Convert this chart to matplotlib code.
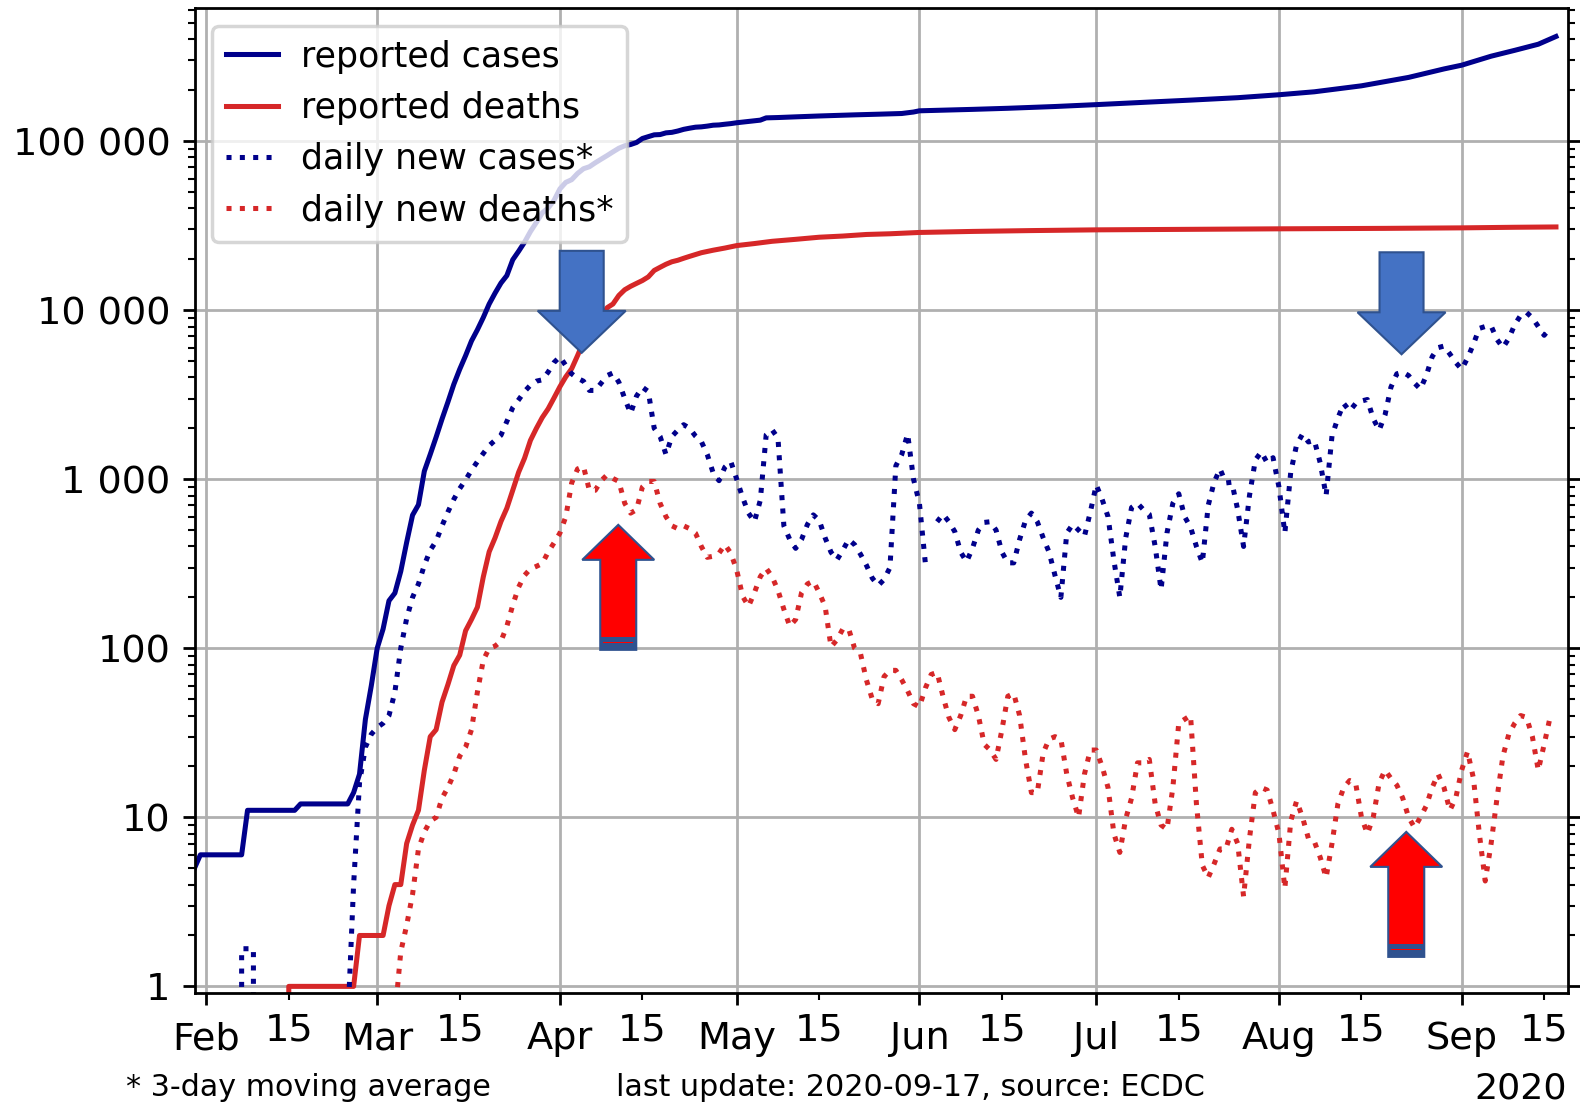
import numpy as np
import matplotlib
matplotlib.use('Agg')
import matplotlib.pyplot as plt
import matplotlib.dates as mdates
from matplotlib import ticker, transforms
from matplotlib.patches import Polygon, Rectangle

start = np.datetime64('2020-02-01')

# cumulative cases (day offset from 1 Feb, value)
cases_days = [-3, -2, -1, 6, 7, 15, 16, 24, 25, 26, 27, 28, 29, 30, 31, 32, 33, 34, 35, 36,
              37, 38, 39, 40, 41, 42, 43, 44, 45, 46, 47, 48, 49, 50, 51, 52, 53, 54, 55, 56,
              57, 58, 59, 60, 61, 62, 63, 64, 65, 66, 67, 68, 69, 70, 71, 72, 73, 74, 75, 76,
              77, 78, 79, 80, 81, 82, 83, 84, 85, 86, 87, 88, 89, 90, 94, 95, 97, 100, 104, 110,
              114, 118, 120, 121, 130, 136, 144, 151, 160, 167, 175, 182, 188, 196, 204, 210,
              213, 218, 222, 226, 229]
cases_total = [4, 5, 6, 6, 11, 11, 12, 12, 14, 18, 38, 60, 100, 130, 191, 212, 285, 423, 613, 706,
               1116, 1402, 1774, 2269, 2860, 3640, 4469, 5380, 6573, 7652, 9043, 10871, 12612, 14459, 16018, 19856, 22302, 25233, 29155, 32964,
               37575, 40174, 44550, 52128, 56989, 59105, 64338, 68605, 70478, 74390, 78167, 82048, 86334, 90676, 93790, 95403, 98076, 103573, 106206, 108847,
               109252, 111821, 112606, 114657, 117324, 119151, 120804, 121368, 122577, 124114, 124575, 125770, 126835, 128339, 132967, 137150, 137779, 139063, 140734, 142903,
               144163, 145555, 148524, 151000, 153977, 156287, 160093, 164260, 170094, 174674, 180528, 187919, 195633, 212211, 238002, 267077,
               281025, 317706, 344101, 373911, 415481]

# cumulative deaths
deaths_days = [13, 14, 25, 26, 30, 31, 32, 33, 34, 35, 36, 37, 38, 39, 40, 41, 42, 43, 44, 45,
               46, 47, 48, 49, 50, 51, 52, 53, 54, 55, 56, 57, 58, 59, 60, 61, 62, 63, 64, 65,
               66, 67, 68, 69, 70, 71, 72, 73, 74, 75, 76, 77, 78, 79, 80, 81, 82, 84, 86, 88,
               90, 93, 96, 100, 104, 108, 112, 116, 121, 130, 140, 151, 165, 182, 200, 213, 222, 229]
deaths_total = [0, 1, 1, 2, 2, 3, 4, 4, 7, 9, 11, 19, 30, 33, 48, 61, 79, 91, 127, 148,
                175, 264, 372, 450, 562, 674, 860, 1100, 1331, 1696, 1995, 2314, 2606, 3024, 3523, 4032, 4503, 5387, 6507, 7560,
                8078, 8911, 10328, 10869, 12210, 13197, 13832, 14393, 14967, 15729, 17167, 17920, 18681, 19323, 19718, 20265, 20796, 21856, 22614, 23293,
                24087, 24760, 25531, 26230, 26991, 27425, 28022, 28289, 28802, 29209, 29547, 29843, 30029, 30265, 30451, 30661, 30910, 31045]

# daily new cases, 3-day moving average, from 1 Feb
new_cases = [0, 0, 0, 0, 0, 0, 1.67, 1.67, 1.67, 0,
             0, 0, 0, 0, 0, 0, 0, 0, 0, 0,
             0, 0, 0, 0, 0.6, 4, 16, 26, 31, 34,
             36, 40, 55, 100, 150, 200, 240, 310, 380, 430,
             530, 640, 760, 880, 990, 1130, 1270, 1420, 1580, 1700,
             1820, 2200, 2650, 2950, 3300, 3600, 3800, 3870, 4300, 4900,
             5300, 4700, 4200, 3950, 3800, 3350, 3350, 3700, 4100, 4250,
             3750, 3000, 2450, 3100, 3500, 3300, 2000, 1790, 1400, 1790,
             1950, 2100, 2000, 1800, 1670, 1400, 1090, 980, 1180, 1270,
             1000, 780, 630, 560, 750, 1830, 1960, 1750, 530, 440,
             390, 440, 540, 615, 570, 450, 370, 333, 380, 440,
             410, 360, 310, 260, 235, 255, 300, 1200, 1400, 1850,
             1000, 720, 320, np.nan, 560, 620, 560, 490, 370, 325,
             390, 500, 555, 560, 500, 370, 320, 320, 440, 570,
             630, 560, 450, 370, 270, 200, 480, 540, 500, 460,
             640, 925, 760, 600, 330, 200, 450, 680, 720, 660,
             620, 400, 222, 480, 720, 820, 600, 520, 400, 320,
             700, 960, 1150, 950, 960, 660, 400, 800, 1300, 1450,
             1250, 1340, 900, 480, 1100, 1600, 1850, 1660, 1700, 1250,
             800, 1800, 2300, 2800, 2530, 2800, 2900, 2960, 2280, 1950,
             2400, 3500, 4200, 4300, 4100, 3700, 3410, 4100, 5300, 6000,
             6130, 5500, 4900, 4470, 5200, 6300, 7800, 8000, 8060, 6700,
             6000, 6800, 8200, 9300, 9700, 9000, 8000, 7100, 7850]

# daily new deaths, 3-day moving average, from 1 Feb
new_deaths = [0, 0, 0, 0, 0, 0, 0, 0, 0, 0,
              0, 0, 0, 0, 0, 0, 0, 0, 0, 0,
              0, 0, 0, 0, 0, 0, 0, 0, 0, 0,
              0, 0, 0.67, 1.6, 2.3, 3.5, 6.5, 8.2, 9.5, 10,
              13, 15, 18, 23, 26, 33, 55, 85, 100, 103,
              110, 135, 180, 230, 270, 295, 305, 317, 370, 420,
              480, 600, 950, 1150, 1190, 860, 860, 980, 1060, 1010,
              970, 720, 630, 660, 900, 970, 970, 720, 600, 530,
              510, 530, 510, 480, 400, 345, 350, 365, 410, 365,
              290, 203, 177, 213, 265, 297, 265, 220, 170, 135,
              148, 213, 240, 250, 213, 177, 102, 112, 130, 130,
              100, 93, 65, 50, 47, 68, 74, 74, 65, 56,
              47, 45, 58, 70, 72, 52, 39, 33, 40, 52,
              52, 40, 27, 25, 22, 33, 52, 54, 40, 22,
              14, 14, 24, 29, 30, 29, 18, 13, 10, 18,
              25, 25, 20, 15, 8, 6.2, 9.8, 13, 21, 21,
              22, 12, 9, 8.5, 15, 36, 38, 40, 12, 5.2,
              4.4, 5.3, 6.5, 6.5, 8.5, 7, 3.4, 7.5, 14, 15,
              14.5, 11, 8, 3.8, 9.5, 12.5, 10, 7.5, 7.2, 5.8,
              4.4, 7, 12, 15, 16.5, 16, 10, 8, 10, 16,
              19, 17, 15.5, 13, 10, 8.7, 10, 11.7, 15, 18,
              15, 11, 13, 19, 24.5, 17, 8, 4.2, 7, 13,
              23, 31, 36, 40, 39, 30, 19, 27, 39]

# overlaid block arrows (day offset of tip, value at tip)
blue_arrow_days = [63.7, 202.8]
blue_arrow_vals = [5590, 5480]
red_arrow_days = [69.9, 203.6]
red_arrow_vals = [537, 8.2]

fig = plt.figure(figsize=(6.32, 4.424), dpi=250)
ax = fig.add_axes([0.1234, 0.1019, 0.869, 0.8906])

blue = 'darkblue'
red = 'tab:red'
lw = 1.45
ax.plot(start + np.array(cases_days), cases_total, color=blue, lw=lw, label='reported cases')
ax.plot(start + np.array(deaths_days), deaths_total, color=red, lw=lw, label='reported deaths')
ax.plot(start + np.arange(len(new_cases)), new_cases, color=blue, lw=lw, ls=':', label='daily new cases*')
ax.plot(start + np.arange(len(new_deaths)), new_deaths, color=red, lw=lw, ls=':', label='daily new deaths*')

ax.set_yscale('log', nonpositive='clip')
ax.yaxis.set_major_locator(ticker.LogLocator(base=10, numticks=20))
ax.yaxis.set_minor_locator(ticker.LogLocator(base=10, subs=np.arange(2, 10), numticks=20))
ax.yaxis.set_major_formatter(ticker.FuncFormatter(lambda v, p: f'{v:,.0f}'.replace(',', ' ')))
ax.yaxis.set_minor_formatter(ticker.NullFormatter())

ax.xaxis.set_major_locator(mdates.MonthLocator())
ax.xaxis.set_major_formatter(mdates.DateFormatter('%b'))
ax.xaxis.set_minor_locator(mdates.MonthLocator(bymonthday=15))
ax.xaxis.set_minor_formatter(mdates.DateFormatter('%d'))

ax.tick_params(axis='y', which='both', right=True, labelsize=11)
ax.tick_params(axis='x', which='both', labelsize=11)
ax.tick_params(axis='x', which='major', pad=4.5)
ax.grid(True, which='major')
ax.legend(loc='upper left', handlelength=1.5, handletextpad=0.65, fontsize=10)


def block_arrow(day, value, down, face):
    x = mdates.date2num(start) + day
    trans = fig.dpi_scale_trans + transforms.ScaledTranslation(x, value, ax.transData)
    d = fig.dpi
    if down:
        pts = [(0, 0), (-44, 42), (-22, 42), (-22, 102), (22, 102), (22, 42), (44, 42)]
    else:
        pts = [(0, 0), (-36, -35), (-18, -35), (-18, -125), (18, -125), (18, -35), (36, -35)]
    ax.add_patch(Polygon(np.array(pts) / d, closed=True, transform=trans, facecolor=face,
                         edgecolor='#2F528F', lw=0.6, zorder=6, clip_on=False))
    if not down:
        ax.add_patch(Rectangle((-18.5 / d, -125 / d), 37 / d, 12.5 / d, transform=trans,
                               facecolor='#2F528F', edgecolor='none', zorder=7, clip_on=False))
        ax.add_patch(Rectangle((-15 / d, -118.5 / d), 30 / d, 1.5 / d, transform=trans,
                               facecolor='red', edgecolor='none', zorder=8, clip_on=False))


for dd, vv in zip(blue_arrow_days, blue_arrow_vals):
    block_arrow(dd, vv, True, '#4472C4')
for dd, vv in zip(red_arrow_days, red_arrow_vals):
    block_arrow(dd, vv, False, '#FF0000')

ax.set_xlim(np.datetime64('2020-01-30T02:00'), np.datetime64('2020-09-19T01:00'))
ax.set_ylim(0.91, 6.1e5)

fig.text(0.080, 0.0086, '* 3-day moving average', fontsize=8.7, va='baseline')
fig.text(0.390, 0.0086, 'last update: 2020-09-17, source: ECDC', fontsize=8.7, va='baseline')
fig.text(0.992, 0.007, '2020', fontsize=10.5, ha='right', va='baseline')

fig.savefig('out.png', dpi=250)
